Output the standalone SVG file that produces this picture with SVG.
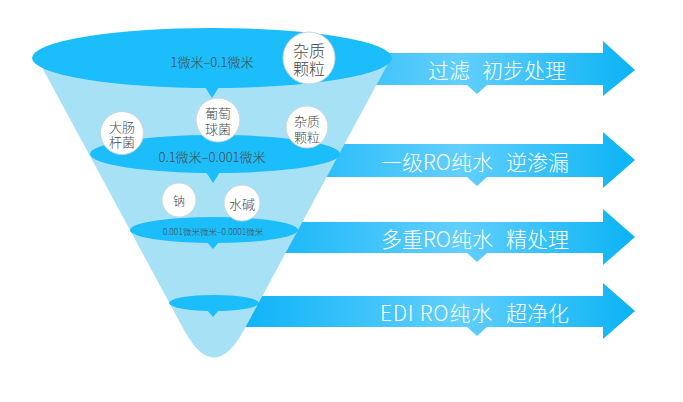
<svg xmlns="http://www.w3.org/2000/svg" width="683" height="402" viewBox="0 0 683 402">
<defs>
<linearGradient id="ag" gradientUnits="userSpaceOnUse" x1="240" y1="0" x2="640" y2="0">
<stop offset="0" stop-color="#0db3f7"/>
<stop offset="0.55" stop-color="#62cffc"/>
<stop offset="1" stop-color="#08b2f5"/>
</linearGradient>
<style>
.arrow{fill:url(#ag)}
.lens{fill:#1bbdfa}
.cone{fill:#a7e1f6}
.bub{fill:#ffffff;stroke:#c9d6dc;stroke-width:1}
.t{font-family:"Noto Sans CJK SC","Noto Sans",sans-serif;font-weight:300;fill:#4a4a4a;text-anchor:middle;dominant-baseline:central}
.at{font-family:"Noto Sans CJK SC","Noto Sans",sans-serif;font-weight:300;fill:#ffffff;font-size:21px;dominant-baseline:central}
</style>
</defs>
<rect width="683" height="402" fill="#ffffff"/>
<g id="arrows">
<g id="arrow1">
<path class="arrow" d="M330,53 H603 V41 L635,70 L603,96 V85 H487 L477,94 L467,85 H330 Z"/>
<text class="at" x="470" y="69" text-anchor="end">过滤</text>
<text class="at" x="482" y="69">初步处理</text>
</g>
<g id="arrow2">
<path class="arrow" d="M320,144 H603 V132 L635,160 L603,188 V177 H487 L477,186 L467,177 H320 Z"/>
<text class="at" x="493" y="161" text-anchor="end">一级RO纯水</text>
<text class="at" x="506" y="161">逆渗漏</text>
</g>
<g id="arrow3">
<path class="arrow" d="M280,222 H603 V209 L635,237 L603,265 V253 H487 L477,262 L467,253 H280 Z"/>
<text class="at" x="493" y="238" text-anchor="end">多重RO纯水</text>
<text class="at" x="506" y="238">精处理</text>
</g>
<g id="arrow4">
<path class="arrow" d="M240,296 H603 V283 L635,311 L603,339 V327 H487 L477,336 L467,327 H240 Z"/>
<text class="at" x="493" y="312" text-anchor="end" letter-spacing="0.8">EDI RO纯水</text>
<text class="at" x="506" y="312">超净化</text>
</g>
</g>
<g id="funnel">
<path class="cone" d="M37,58 L391,58 L244,330 Q214,385 184,330 Z"/>
<g id="layer1">
<ellipse class="lens" cx="212" cy="58" rx="180" ry="30"/>
<path class="lens" d="M205,87 L212,98 L219,87 Z"/>
<text class="t" x="212" y="61" font-size="13">1微米–0.1微米</text>
</g>
<g id="layer2">
<ellipse class="lens" cx="215" cy="154" rx="125" ry="19"/>
<path class="lens" d="M206,172 L213,183 L220,172 Z"/>
<text class="t" x="212" y="156" font-size="13">0.1微米–0.001微米</text>
</g>
<g id="layer3">
<ellipse class="lens" cx="214" cy="230" rx="84" ry="13"/>
<path class="lens" d="M207,242 L213,249 L219,242 Z"/>
<text class="t" x="213" y="231" font-size="8.5">0.001微米微米–0.0001微米</text>
</g>
<g id="layer4">
<ellipse class="lens" cx="214" cy="303" rx="45" ry="8"/>
<path class="lens" d="M207,310 L213,317 L219,310 Z"/>
</g>
</g>
<g id="bubble-impurity-large">
<circle class="bub" cx="309" cy="58" r="26"/>
<text class="t" font-size="16"><tspan x="309" y="50">杂质</tspan><tspan x="309" y="68">颗粒</tspan></text>
</g>
<g id="bubble-staph">
<circle class="bub" cx="218" cy="120" r="22"/>
<text class="t" font-size="13"><tspan x="218" y="112">葡萄</tspan><tspan x="218" y="128">球菌</tspan></text>
</g>
<g id="bubble-ecoli">
<circle class="bub" cx="122" cy="133" r="21.5"/>
<text class="t" font-size="13"><tspan x="122" y="126">大肠</tspan><tspan x="122" y="141">杆菌</tspan></text>
</g>
<g id="bubble-impurity-small">
<circle class="bub" cx="307" cy="127" r="21"/>
<text class="t" font-size="13"><tspan x="307" y="120">杂质</tspan><tspan x="307" y="136">颗粒</tspan></text>
</g>
<g id="bubble-sodium">
<circle class="bub" cx="179" cy="200" r="17"/>
<text class="t" x="179" y="200" font-size="12">钠</text>
</g>
<g id="bubble-scale">
<circle class="bub" cx="242" cy="203" r="18"/>
<text class="t" x="242" y="203" font-size="13">水碱</text>
</g>
</svg>
